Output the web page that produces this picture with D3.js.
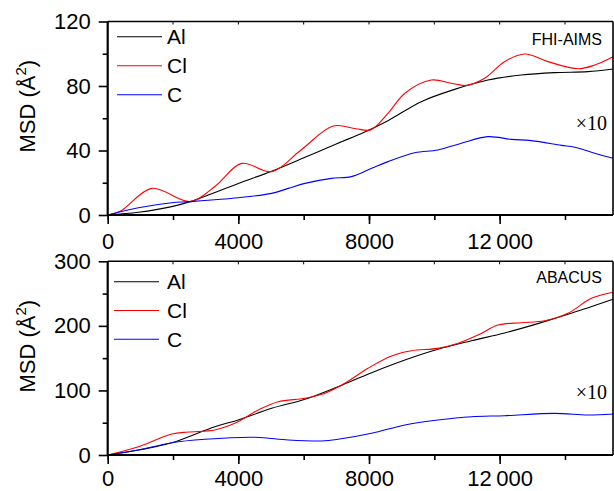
<!DOCTYPE html>
<html>
<head>
<meta charset="utf-8">
<script src="https://cdn.jsdelivr.net/npm/d3@7"></script>
<style>
  html, body { margin: 0; padding: 0; background: #fff; }
  svg { display: block; }
  text { font-family: "Liberation Sans", Arial, sans-serif; fill: #000; }
</style>
</head>
<body>
<svg id="chart" width="614" height="491"></svg>
<script>
// ---------------- DATA ----------------
const seriesNames = ["Al", "Cl", "C"];
const seriesColors = ["#000000", "#ff0000", "#0000ff"];
const panelTitles = ["FHI-AIMS", "ABACUS"];
const scaleNote = "\u00d710";

const xTickValues = [0, 4000, 8000, 12000];
const xTickLabels = ["0", "4000", "8000", "12\u2009000"];
const xMax = 15470;

const fhiYTicks = [0, 40, 80, 120];
const abacusYTicks = [0, 100, 200, 300];

// FHI-AIMS panel
const fhiAlTime = [0, 940, 1960, 2520, 4000, 5020, 6040, 7050, 7870, 8580, 9600, 10620, 11640, 12660, 13680, 14700, 15470];
const fhiAlMSD  = [0, 1.7, 5.2, 8.3, 19.6, 27.2, 35.8, 44.5, 51.5, 58.5, 70.3, 77.9, 83.7, 86.8, 88.3, 88.9, 90.5];

const fhiClTime = [0, 400, 1350, 2520, 3300, 4100, 5020, 5900, 6900, 7600, 8050, 8580, 9100, 9910, 10520, 10980, 11540, 12150, 12770, 13480, 14400, 14910, 15470];
const fhiClMSD  = [0, 2.5, 16.5, 8.3, 18.0, 32.0, 26.9, 40.0, 55.2, 53.5, 52.8, 63.0, 75.5, 83.7, 81.7, 80.4, 84.8, 95.1, 99.8, 95.1, 90.7, 93.0, 98.2];

const fhiCTime = [0, 940, 1960, 2520, 4000, 5020, 5530, 6040, 6850, 7460, 8080, 8580, 9400, 10110, 10830, 11640, 12360, 12970, 13890, 14300, 14910, 15470];
const fhiCMSD  = [0, 4.5, 7.6, 8.3, 10.7, 13.4, 16.5, 19.6, 22.7, 23.8, 29.0, 33.1, 38.6, 40.3, 44.5, 48.6, 46.9, 46.1, 43.2, 42.0, 38.3, 35.2];

// ABACUS panel
const abaAlTime = [0, 940, 1960, 3280, 4000, 5020, 6040, 7050, 8080, 9100, 10110, 11140, 12150, 13170, 14190, 15470];
const abaAlMSD  = [0, 7.7, 19.0, 43.9, 54.2, 72.3, 86.3, 105.8, 127.5, 147.1, 163.7, 177.0, 189.0, 203.5, 219.4, 241.1];

const abaClTime = [0, 940, 1960, 2470, 3280, 3890, 4610, 5220, 6040, 6650, 7260, 7970, 8690, 9300, 10110, 10730, 11340, 11950, 12660, 13380, 14090, 14810, 15470];
const abaClMSD  = [0, 12.9, 32.5, 35.6, 38.7, 49.0, 69.7, 82.6, 87.8, 95.5, 111.0, 134.3, 153.3, 161.5, 165.2, 173.0, 185.8, 201.3, 204.9, 208.0, 219.4, 242.7, 252.0];

const abaCTime = [0, 940, 1960, 2980, 4510, 5530, 6550, 7050, 8080, 9100, 10110, 11140, 12150, 13680, 14700, 15470];
const abaCMSD  = [0, 7.7, 19.0, 24.3, 27.4, 23.2, 21.7, 24.3, 33.6, 46.5, 54.2, 59.3, 60.9, 64.5, 62.0, 63.5];

// ---------------- DRAW ----------------
const svg = d3.select("#chart");
const left = 107.7, right = 613;

const panels = [
  { top: 21.5, bottom: 215, yMax: 120, yTicks: fhiYTicks, yMinor: 20, title: panelTitles[0], xPad: 9,
    titleY: 45, noteY: 130, legendY: [36.7, 65.7, 94.7], legendX0: 117, legendX1: 162,
    series: [[fhiAlTime, fhiAlMSD], [fhiClTime, fhiClMSD], [fhiCTime, fhiCMSD]] },
  { top: 261.3, bottom: 455, yMax: 300, yTicks: abacusYTicks, yMinor: 50, title: panelTitles[1], xPad: 6.5,
    titleY: 283.3, noteY: 398.5, legendY: [281.7, 310.5, 339.3], legendX0: 114, legendX1: 159,
    series: [[abaAlTime, abaAlMSD], [abaClTime, abaClMSD], [abaCTime, abaCMSD]] }
];

const x = d3.scaleLinear().domain([0, xMax]).range([left, right]);
const xMinorVals = d3.range(0, xMax, 2000);

panels.forEach((p) => {
  const y = d3.scaleLinear().domain([0, p.yMax]).range([p.bottom, p.top]);
  const g = svg.append("g");

  // data lines
  const line = d3.line().x(d => x(d[0])).y(d => y(d[1])).curve(d3.curveCatmullRom.alpha(0.5));
  p.series.forEach((s, i) => {
    const pts = s[0].map((t, k) => [t, s[1][k]]);
    g.append("path").attr("d", line(pts)).attr("fill", "none")
      .attr("stroke", seriesColors[i]).attr("stroke-width", 1.1);
  });

  // frame: top and right
  g.append("line").attr("x1", left).attr("x2", right).attr("y1", p.top).attr("y2", p.top)
    .attr("stroke", "#000").attr("stroke-width", 1.6);
  g.append("line").attr("x1", right).attr("x2", right).attr("y1", p.top).attr("y2", p.bottom)
    .attr("stroke", "#000").attr("stroke-width", 1.6);
  // inward ticks on top
  xMinorVals.forEach(v => {
    g.append("line").attr("x1", x(v)).attr("x2", x(v)).attr("y1", p.top).attr("y2", p.top + 3)
      .attr("stroke", "#000").attr("stroke-width", 1);
  });

  // minor x ticks
  const xMinorAxis = d3.axisBottom(x).tickValues(xMinorVals).tickSize(5).tickFormat("");
  const gxm = g.append("g").attr("transform", `translate(0,${p.bottom})`).call(xMinorAxis);
  gxm.select(".domain").remove();
  gxm.selectAll("line").attr("stroke-width", 1.6);

  // major x axis
  const xAxis = d3.axisBottom(x).tickValues(xTickValues).tickSize(9).tickPadding(p.xPad)
    .tickFormat((d, i) => xTickLabels[i]);
  const gx = g.append("g").attr("transform", `translate(0,${p.bottom})`).call(xAxis);
  gx.select(".domain").attr("stroke-width", 2.2).attr("d", `M${left},0H${right}`);
  gx.selectAll("line").attr("stroke-width", 1.6);
  gx.selectAll("text").attr("font-size", 22).attr("font-family", "Liberation Sans, Arial, sans-serif");

  // minor y ticks
  const yMinorVals = d3.range(p.yMinor, p.yMax, p.yMinor * 2);
  const yMinorAxis = d3.axisLeft(y).tickValues(yMinorVals).tickSize(5).tickFormat("");
  const gym = g.append("g").attr("transform", `translate(${left},0)`).call(yMinorAxis);
  gym.select(".domain").remove();
  gym.selectAll("line").attr("stroke-width", 1.6);

  // major y axis
  const yAxis = d3.axisLeft(y).tickValues(p.yTicks).tickSize(9).tickPadding(8).tickFormat(d3.format("d"));
  const gy = g.append("g").attr("transform", `translate(${left},0)`).call(yAxis);
  gy.select(".domain").attr("stroke-width", 2.2).attr("d", `M0,${p.bottom + 1}V${p.top}`);
  gy.selectAll("line").attr("stroke-width", 1.6);
  gy.selectAll("text").attr("font-size", 22).attr("font-family", "Liberation Sans, Arial, sans-serif");

  // y label
  const cy = (p.top + p.bottom) / 2 - 12;
  const yl = g.append("text").attr("transform", `translate(35,${cy}) rotate(-90)`)
    .attr("text-anchor", "middle").attr("font-size", 22);
  yl.append("tspan").text("MSD (\u00c5");
  yl.append("tspan").attr("dy", -9).attr("font-size", 15).text("2");
  yl.append("tspan").attr("dy", 9).text(")");

  // legend
  seriesNames.forEach((name, i) => {
    g.append("line").attr("x1", p.legendX0).attr("x2", p.legendX1)
      .attr("y1", p.legendY[i]).attr("y2", p.legendY[i])
      .attr("stroke", seriesColors[i]).attr("stroke-width", 1.1);
    g.append("text").attr("x", 167).attr("y", p.legendY[i] + 7.2)
      .attr("font-size", 21).text(name);
  });

  // panel title
  g.append("text").attr("x", 602).attr("y", p.titleY).attr("text-anchor", "end")
    .attr("font-size", 16).text(p.title);

  // x10 note
  g.append("text").attr("x", 607).attr("y", p.noteY).attr("text-anchor", "end")
    .attr("font-size", 20).style("font-family", "Liberation Serif, Times New Roman, serif").text(scaleNote);
});
</script>
</body>
</html>
